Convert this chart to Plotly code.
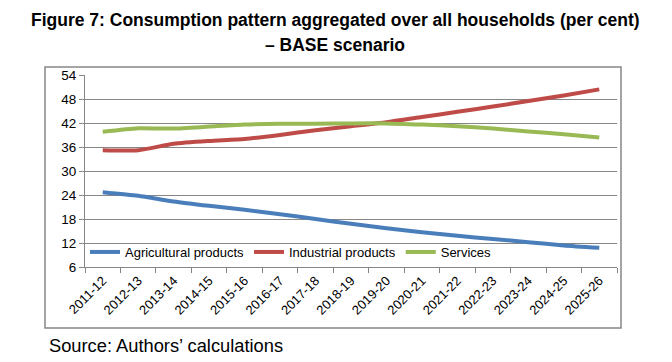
import plotly.graph_objects as go

years = ["2011-12", "2012-13", "2013-14", "2014-15", "2015-16", "2016-17", "2017-18",
         "2018-19", "2019-20", "2020-21", "2021-22", "2022-23", "2023-24", "2024-25", "2025-26"]
agricultural = [24.7, 23.8, 22.4, 21.3, 20.3, 19.2, 18.0, 16.8, 15.7, 14.7, 13.8, 13.0, 12.2, 11.4, 10.8]
industrial = [35.2, 35.2, 36.8, 37.5, 38.0, 39.0, 40.2, 41.2, 42.2, 43.5, 44.8, 46.1, 47.5, 48.9, 50.4]
services = [39.8, 40.7, 40.6, 41.1, 41.6, 41.8, 41.8, 41.9, 41.9, 41.6, 41.2, 40.6, 39.9, 39.2, 38.4]
y_ticks = [6, 12, 18, 24, 30, 36, 42, 48, 54]

fig = go.Figure()
for name, vals, col in [("Agricultural products", agricultural, "#4A7EBB"),
                        ("Industrial products", industrial, "#BE4B48"),
                        ("Services", services, "#98B954")]:
    fig.add_trace(go.Scatter(x=years, y=vals, name=name, mode="lines",
                             line=dict(color=col, width=4, shape="spline", smoothing=0.6)))

W, H = 672, 362
L, R, T, B = 85, 617, 75, 267
fig.update_layout(
    width=W, height=H,
    margin=dict(l=L, r=W - R, t=T, b=H - B, autoexpand=False),
    paper_bgcolor="white", plot_bgcolor="white",
    font=dict(family="Liberation Sans, Arial, sans-serif", color="#000000"),
    showlegend=True,
    legend=dict(orientation="h", x=0.0, y=0.0, xanchor="left", yanchor="bottom",
                bgcolor="rgba(0,0,0,0)", font=dict(size=13), itemwidth=30,
                tracegroupgap=0),
    xaxis=dict(type="category", showgrid=False, showline=True, linecolor="#868686",
               linewidth=1, ticks="outside", tickson="boundaries", ticklen=5,
               tickcolor="#868686", tickangle=-45, tickfont=dict(size=13),
               range=[-0.5, 14.5]),
    yaxis=dict(range=[6, 54], tickvals=y_ticks, showgrid=True, gridcolor="#868686",
               gridwidth=1, showline=True, linecolor="#868686", ticks="outside",
               ticklen=5, tickcolor="#868686", tickfont=dict(size=13.5), zeroline=False),
)

def px(x):
    return (x - L) / (R - L)

def py(y):
    return (B - y) / (B - T)

fig.add_shape(type="rect", xref="paper", yref="paper",
              x0=px(45), x1=px(621), y0=py(328), y1=py(67),
              line=dict(color="#868686", width=1.5), layer="below")

fig.add_annotation(xref="paper", yref="paper", x=px(335), y=py(20), xanchor="center",
                   yanchor="middle", showarrow=False,
                   text="<b>Figure 7: Consumption pattern aggregated over all households (per cent)</b>",
                   font=dict(size=17.5))
fig.add_annotation(xref="paper", yref="paper", x=px(335), y=py(45), xanchor="center",
                   yanchor="middle", showarrow=False,
                   text="<b>– BASE scenario</b>", font=dict(size=17.5))
fig.add_annotation(xref="paper", yref="paper", x=px(47), y=py(345), xanchor="left",
                   yanchor="middle", showarrow=False,
                   text="Source: Authors’ calculations", font=dict(size=18.3))

fig.write_html("out.html", config={"displayModeBar": False},
               post_script="document.body.style.margin='0';")
